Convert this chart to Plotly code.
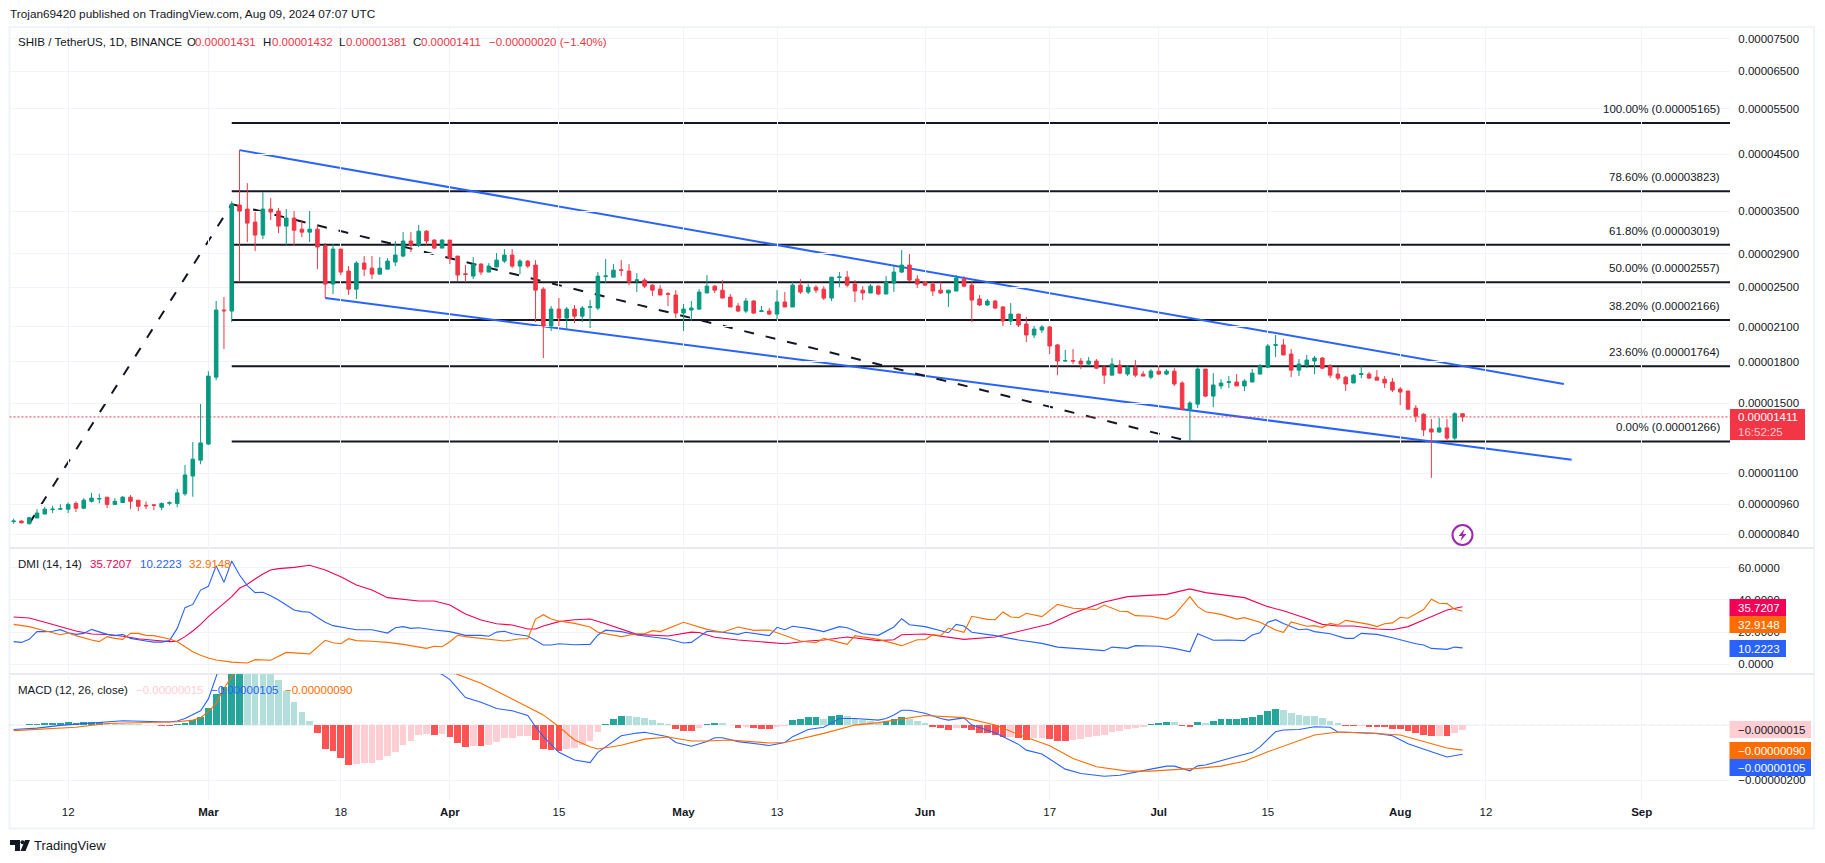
import math
import pandas as pd
import plotly.graph_objects as go

W, H = 1825, 863
UNIT = 1e-8          # prices and MACD values below are in units of 0.00000001
FONT = "Liberation Sans"
INK = "#131722"
GRID = "#f0f3fa"
UP, DOWN = "#089981", "#f23645"
BLUE, ORANGE, PINK = "#2962ff", "#ff6d00", "#f50057"

opens = [889,891,881,903,919,937,939,939,963,943,
 972,982,990,959,967,990,977,955,957,947,
 964,963,1005,1087,1166,1252,1682,2262,2252,3596,
 3533,3336,3150,3533,3502,3277,3395,3233,3191,3233,
 3001,2537,2961,2687,2481,2783,2722,2651,2710,2796,
 2871,3068,3014,3205,3081,2974,3081,2871,2655,2628,
 2771,2675,2735,2808,2884,2747,2808,2759,2481,2108,
 2272,2183,2272,2202,2290,2282,2622,2616,2702,2687,
 2578,2582,2525,2481,2431,2417,2232,2262,2272,2439,
 2514,2470,2395,2303,2252,2354,2248,2252,2222,2344,
 2293,2525,2449,2502,2481,2385,2612,2616,2537,2470,
 2439,2514,2428,2548,2675,2759,2593,2559,2537,2470,
 2439,2460,2593,2525,2375,2313,2354,2293,2155,2222,
 2127,2026,2071,2099,1939,1806,1810,1806,1782,1806,
 1758,1697,1774,1705,1758,1705,1682,1727,1705,1727,
 1639,1460,1493,1743,1547,1618,1642,1646,1618,1646,
 1705,1758,1935,1939,1863,1735,1774,1806,1830,1766,
 1705,1682,1639,1702,1705,1682,1667,1646,1596,1582,
 1467,1428,1338,1320,1344,1285,1431]
highs = [900,894,908,939,949,953,959,967,972,986,
 1009,1005,990,986,995,999,977,972,959,967,
 972,1027,1141,1263,1494,1727,2354,2395,3658,4584,
 3962,3487,3806,3708,3549,3533,3502,3365,3502,3292,
 3041,3028,2961,2747,2808,2871,2871,2858,2845,3068,
 3191,3191,3292,3219,3094,3094,3081,2871,2759,2858,
 2783,2783,2909,2961,2961,2833,2820,2820,2502,2303,
 2385,2293,2313,2303,2364,2675,2833,2771,2820,2771,
 2663,2605,2537,2525,2449,2470,2323,2354,2481,2640,
 2525,2582,2428,2333,2385,2364,2303,2282,2470,2449,
 2559,2593,2537,2525,2514,2616,2675,2687,2582,2514,
 2537,2525,2628,2747,2948,2897,2640,2570,2559,2559,
 2470,2640,2628,2559,2417,2375,2364,2303,2333,2222,
 2193,2108,2117,2108,1947,1896,1904,1830,1838,1822,
 1766,1830,1814,1774,1814,1727,1743,1766,1743,1750,
 1653,1513,1758,1743,1712,1667,1690,1705,1667,1743,
 1782,1947,2026,1990,1904,1822,1855,1847,1838,1782,
 1758,1690,1705,1766,1720,1735,1690,1675,1610,1582,
 1487,1435,1398,1405,1398,1441,1432]
lows = [880,882,877,903,919,923,935,923,927,939,
 967,963,943,959,967,939,931,939,935,935,
 955,947,996,992,1145,1246,1660,1904,2145,2563,
 3054,2935,3094,3365,3177,3014,3001,3122,3054,2710,
 2385,2428,2640,2417,2375,2628,2593,2640,2710,2747,
 2858,2922,2988,3014,2961,2974,2771,2570,2559,2593,
 2640,2675,2735,2783,2722,2651,2722,2145,1830,2062,
 2108,2080,2136,2145,2089,2262,2548,2616,2628,2525,
 2449,2492,2407,2417,2303,2183,2062,2155,2262,2439,
 2439,2385,2293,2242,2232,2222,2242,2212,2164,2293,
 2293,2428,2428,2439,2364,2354,2502,2502,2344,2364,
 2439,2417,2428,2449,2663,2570,2492,2514,2407,2428,
 2293,2460,2502,2145,2303,2303,2272,2108,2117,2099,
 1964,1999,2044,1863,1697,1798,1782,1743,1766,1743,
 1632,1697,1712,1690,1682,1690,1667,1697,1697,1618,
 1454,1268,1467,1540,1473,1596,1603,1618,1582,1646,
 1705,1750,1838,1855,1682,1690,1750,1705,1743,1675,
 1660,1582,1639,1675,1667,1660,1603,1575,1487,1460,
 1380,1297,1078,1315,1274,1268,1381]
closes = [891,884,904,923,939,939,941,959,943,977,
 986,984,959,972,990,972,951,953,955,963,
 966,1009,1092,1171,1258,1690,2262,2255,3611,3502,
 3321,3150,3533,3487,3277,3395,3219,3191,3233,2988,
 2537,2961,2675,2481,2783,2710,2651,2722,2808,2884,
 3068,3014,3205,3068,2974,3081,2845,2640,2647,2771,
 2675,2747,2820,2884,2747,2808,2747,2470,2108,2272,
 2183,2272,2202,2282,2295,2628,2630,2698,2695,2559,
 2584,2514,2470,2417,2425,2232,2272,2282,2449,2514,
 2470,2385,2293,2252,2354,2232,2254,2222,2344,2293,
 2525,2449,2502,2470,2385,2616,2618,2525,2460,2439,
 2514,2428,2559,2675,2759,2582,2537,2525,2460,2439,
 2470,2605,2514,2364,2313,2354,2282,2155,2222,2117,
 2026,2080,2099,1930,1806,1810,1806,1782,1806,1750,
 1697,1782,1712,1758,1697,1690,1727,1705,1727,1632,
 1460,1500,1743,1547,1625,1639,1648,1618,1653,1712,
 1766,1930,1941,1855,1735,1782,1814,1830,1750,1697,
 1675,1632,1697,1708,1675,1660,1639,1589,1575,1460,
 1416,1332,1320,1344,1285,1431,1411]

macd_hist = [1,1,5,5,8,8,8,12,8,11,
 12,12,8,7,6,6,5,3,2,-1,
 -1,4,8,18,30,64,114,138,230,250,
 225,215,205,195,165,126,85,48,16,-28,
 -86,-92,-118,-144,-141,-138,-136,-126,-112,-97,
 -72,-56,-35,-32,-35,-32,-42,-64,-79,-75,
 -75,-72,-61,-46,-46,-39,-39,-53,-86,-90,
 -93,-86,-82,-72,-57,-24,5,23,34,34,
 29,25,18,8,5,-13,-21,-21,-10,5,
 8,8,1,-10,-6,-10,-13,-13,-6,-3,
 19,23,30,30,23,34,38,34,23,18,
 16,8,16,23,30,23,16,8,-6,-10,
 -17,-10,-10,-17,-28,-28,-35,-42,-42,-46,
 -53,-46,-46,-50,-57,-57,-53,-50,-42,-39,
 -35,-24,-21,-13,-10,-6,5,8,12,12,
 -2,-6,12,8,16,23,23,23,27,30,
 38,52,59,56,45,38,34,34,27,16,
 8,-2,-2,-2,-6,-6,-6,-13,-13,-21,
 -28,-35,-39,-39,-39,-28,-15]
# G strong green, g pale green, R strong red, r pale red (one letter per bar)
macd_shade = ("g" "G" "GGGGGGGGGG" "ggggggg" "RR" "GGGGGGGGG" "ggggggggg" "RRRRR" "rrrrrrrrrr"
              "R" "r" "RRR" "r" "R" "rrrrrr" "RRRR" "rrrrr" "GGG" "gggggg" "RRR" "r" "GG" "gg"
              "R" "r" "RRR" "rr" "GGGG" "g" "GG" "ggggg" "GGG" "ggg" "RRR" "r" "RRRRRR" "r"
              "RR" "rr" "RRR" "rrrrrrrrrr" "GGG" "g" "RR" "G" "g" "GGGGGGGGG" "gggggggg"
              "RR" "r" "RRRRRRRRR" "r" "R" "rr")

adx_bars = [0,2,4,6,8,10,12,14,16,18,20,21,22,23,24,25,26,27,28,29,30,31,32,33,34,36,38,40,42,44,46,48,50,52,54,56,58,60,62,64,66,67,68,70,72,74,76,78,80,84,87,88,90,93,97,99,102,104,107,111,113,114,117,119,122,126,129,133,136,140,143,148,151,153,158,160,161,163,166,168,170,172,175,177,179,181,184,186]
adx_vals = [29.4,28.8,26.1,23.2,20.7,18.8,18.6,17.4,15.9,14.9,14.1,14.3,17.2,20.7,24.8,29.6,33.7,37.9,42,47.2,49.7,53,56.1,58.6,59.4,60.2,61.5,58.6,54.4,49.2,46.1,41.4,40.3,39.3,39.3,36.8,31.2,27.5,25.2,24.4,21.9,21.9,23.8,26.5,27.7,28.1,25.2,21.7,18.6,17.6,20,19.8,16.8,15.1,13.4,12.8,14.5,15.1,17,14.7,15.3,18.4,18.8,17.6,15.5,17,20.3,25,31.7,38.7,42,43.4,46.8,44.5,41.4,37.9,35.8,33.3,28.5,24.8,23.8,23.8,21.9,21.5,23.4,27.5,33.7,35.72]
plus_bars = [0,1,2,3,4,5,6,7,8,9,10,11,12,13,14,15,16,17,18,19,20,21,22,23,24,25,26,27,28,29,30,31,32,33,34,35,36,37,38,39,40,41,42,44,46,48,49,50,51,52,54,56,58,59,60,61,62,63,64,66,67,68,69,70,72,74,75,76,78,80,84,86,87,89,91,93,94,97,98,99,100,102,104,106,107,109,111,113,114,115,117,120,121,122,123,126,129,132,134,140,141,143,144,147,149,151,152,154,156,158,159,160,161,162,163,165,166,167,169,171,172,173,175,177,180,181,182,184,185,186]
plus_vals = [14.1,13.6,15.5,20.3,20.3,20.5,21.5,19.6,18.6,19.2,21.7,20.1,18.6,17.8,18.6,16.1,15.1,14.5,13.8,13.8,14.7,22.3,35.2,37.2,46.1,48.4,61.2,50.9,64.1,55.4,48.8,44.5,44.7,42.6,39.9,36.8,33.7,32.7,32.3,29.1,26.1,24,23.2,21.5,21.5,19.4,22.7,23.4,22.3,22.7,21.3,20.3,18,18,18,17.4,20,20.5,19,17.6,14.7,12,12,12.8,12.2,12.4,18.2,21.2,20.3,18.2,15.7,13.2,13.6,20.5,19.9,18.6,19.9,17.8,23,21.5,23.6,22.3,20.3,23.4,22.7,19,18,23.2,28.3,24.6,23.4,19.6,24.8,23.8,19.9,17.8,15.1,13,10.7,8.5,10.7,9.9,11.6,11.2,9.9,7.8,19,14.9,15.1,14.7,18.2,19.6,26.1,27.7,25.4,21.5,21.9,20.3,19,16.1,16.1,19.2,18.6,16.5,12.8,12,9.9,9.3,10.7,10.22]
minus_bars = [0,2,4,6,7,8,10,11,12,13,14,15,16,17,18,20,21,22,23,24,25,26,28,30,31,33,34,35,37,38,39,40,41,42,43,44,46,48,50,52,53,54,55,56,57,58,60,62,63,64,65,66,67,68,69,70,72,74,75,78,80,81,82,83,86,89,91,93,95,97,99,101,103,104,107,108,111,114,116,117,118,119,120,122,123,125,126,127,128,129,130,132,134,136,139,140,142,143,144,146,148,149,151,152,153,155,157,158,160,162,163,164,166,167,168,169,170,171,172,174,175,176,177,178,179,181,182,183,184,185,186]
minus_vals = [24.8,23.4,20.9,18.4,19.4,17.8,15.1,14.1,17.2,16.1,15.5,19.2,19.2,18,17.8,15.7,14,10.9,7.8,5.6,3.9,2.7,1.4,0.8,2.9,2.5,4.7,7.4,6.8,6.4,10.7,14.9,13.4,12.8,15.9,14.7,14.3,13.6,12.4,10.9,9.9,11.2,10.9,14,18,17.2,16.1,15.3,14.5,15.1,15.9,15.9,28.1,30.8,28.1,26.9,25.4,23.2,19.9,17.2,19,19,20.9,20.3,26.1,21.7,19.9,23.2,21.1,21.3,17.8,14.5,13.4,16.1,12.4,17.8,15.5,11.6,15.3,15.3,18.4,17.8,22.4,19.9,29.8,27.9,27.7,32.5,29.4,29,31.7,29.6,37.2,34.8,34,36.8,32.9,32.7,30.2,29.8,27.9,30.6,42,35.8,32.6,31,28.1,29,26.1,21.3,19.9,26.3,23.6,24,22.8,25.4,24.4,27.3,26.5,24.8,23.4,25.2,25.7,29.2,28.6,34,40.4,37.9,37.7,34.2,32.91]

macd_bars = [0,3,6,11,14,20,21,22,24,25,26,27,28,29,32,36,40,45,50,54,55,56,58,60,62,64,66,67,68,70,72,74,75,78,80,81,84,85,87,89,90,91,93,97,99,100,102,104,106,108,111,112,113,114,115,117,119,120,122,123,126,129,130,132,135,137,140,142,146,148,149,151,152,153,156,159,160,162,163,165,167,169,170,175,177,179,182,184,186]
macd_vals = [-15,-10,0,12,17,12,16,25,53,96,185,280,360,420,480,480,450,360,270,200,185,166,101,84,61,53,36,-5,-41,-98,-126,-135,-98,-38,-28,-25,-41,-62,-76,-59,-45,-45,-59,-73,-62,-41,-15,-7,25,25,19,25,38,55,55,44,25,19,27,1,-27,-69,-90,-104,-159,-175,-185,-181,-159,-148,-148,-165,-147,-144,-120,-98,-78,-23,-17,-15,-5,-7,-24,-29,-38,-67,-96,-115,-105]
signal_bars = [0,8,12,18,21,23,24,25,26,27,28,29,30,33,38,43,50,55,57,60,63,66,68,70,72,74,75,78,81,84,87,89,92,97,99,104,108,111,114,117,122,126,129,133,136,139,143,146,150,152,155,158,161,164,167,170,173,178,181,184,186]
signal_vals = [-19,-7,7,12,13,19,28,50,80,135,177,231,280,360,420,400,300,210,185,153,110,69,38,-5,-53,-78,-86,-72,-50,-42,-57,-57,-53,-64,-62,-29,1,10,24,36,28,1,-33,-74,-120,-150,-166,-166,-159,-156,-148,-130,-96,-65,-35,-24,-27,-35,-59,-82,-90]

price_ticks = [7500,6500,5500,4500,3500,2900,2500,2100,1800,1500,1100,960,840]
dmi_ticks = [60,40,20,0]
macd_ticks = [0,-200]
time_tick_dates = ["2024-02-12","2024-03-01","2024-03-18","2024-04-01","2024-04-15","2024-05-01","2024-05-13",
                   "2024-06-01","2024-06-17","2024-07-01","2024-07-15","2024-08-01","2024-08-12","2024-09-01"]
time_tick_text = ["12","<b>Mar</b>","18","<b>Apr</b>","15","<b>May</b>","13","<b>Jun</b>","17","<b>Jul</b>","15","<b>Aug</b>","12","<b>Sep</b>"]

fib_levels = [5165,3823,3019,2557,2166,1764,1266]
fib_pcts = ["100.00%","78.60%","61.80%","50.00%","38.20%","23.60%","0.00%"]
fib_start = "2024-03-04"
channel_upper_dates, channel_upper_prices = ["2024-03-05","2024-08-22"], [4584,1632]
channel_lower_dates, channel_lower_prices = ["2024-03-16","2024-08-23"], [2385,1168]
trend_dates, trend_prices = ["2024-02-07","2024-03-04","2024-07-05"], [881,3611,1266]
last_price = 1411

dates = pd.date_range("2024-02-05", periods=len(opens)).strftime("%Y-%m-%d").tolist()
assert len(macd_hist) == len(dates) and len(macd_shade.strip()) == len(dates), (len(macd_hist), len(macd_shade))
X_RANGE = ["2024-02-04 11:17", "2024-09-12 08:00"]
PLOT_L, PLOT_R = 9.5, 1730
FRAME_R = 1814


def px(x):
    return x / W


def py(y):
    return 1 - y / H


def at(bars):
    return [dates[b] for b in bars]


def scaled(vals):
    return [v * UNIT for v in vals]


fig = go.Figure()
fig.add_trace(go.Candlestick(
    x=dates, open=scaled(opens), high=scaled(highs), low=scaled(lows), close=scaled(closes),
    increasing=dict(line=dict(color=UP, width=1), fillcolor=UP),
    decreasing=dict(line=dict(color=DOWN, width=1), fillcolor=DOWN),
    whiskerwidth=0, xaxis="x", yaxis="y", hoverinfo="skip"))
for bars, vals, col in [(adx_bars, adx_vals, PINK), (plus_bars, plus_vals, BLUE), (minus_bars, minus_vals, ORANGE)]:
    assert len(bars) == len(vals), (len(bars), len(vals))
    fig.add_trace(go.Scatter(x=at(bars), y=vals, mode="lines", line=dict(color=col, width=1.1),
                             xaxis="x2", yaxis="y2", hoverinfo="skip"))
shade_col = {"G": "#26a69a", "g": "#b2dfdb", "R": "#ff5252", "r": "#ffcdd2"}
fig.add_trace(go.Bar(x=dates, y=scaled(macd_hist), marker=dict(color=[shade_col[c] for c in macd_shade], line_width=0),
                     width=0.86 * 86400000, xaxis="x3", yaxis="y3", hoverinfo="skip"))
for bars, vals, col in [(macd_bars, macd_vals, BLUE), (signal_bars, signal_vals, ORANGE)]:
    assert len(bars) == len(vals), (len(bars), len(vals))
    fig.add_trace(go.Scatter(x=at(bars), y=scaled(vals), mode="lines", line=dict(color=col, width=1.1),
                             xaxis="x3", yaxis="y3", hoverinfo="skip"))

shapes = []
ann = []


def seg(xs, ys, color, width, dash="solid", yref="y", xref="x"):
    for i in range(len(xs) - 1):
        shapes.append(dict(type="line", xref=xref, yref=yref, x0=xs[i], x1=xs[i + 1], y0=ys[i], y1=ys[i + 1],
                           line=dict(color=color, width=width, dash=dash), layer="below"))


for level, pct in zip(fib_levels, fib_pcts):
    v = level * UNIT
    seg([fib_start, X_RANGE[1]], [v, v], INK, 2)
    ann.append(dict(xref="paper", yref="y", x=px(1722), y=math.log10(v), yshift=6, text=f"{pct} ({v:.8f})",
                    showarrow=False, xanchor="right", yanchor="bottom", font=dict(family=FONT, size=11.5, color=INK)))
seg(channel_upper_dates, scaled(channel_upper_prices), BLUE, 2)
seg(channel_lower_dates, scaled(channel_lower_prices), BLUE, 2)
seg(trend_dates, scaled(trend_prices), INK, 2, dash="10px,12px")
seg(X_RANGE, [last_price * UNIT] * 2, DOWN, 1, dash="2px,2px")
seg(X_RANGE, [0, 0], "#9598a1", 1, dash="5px,3px", yref="y3", xref="x3")


def label(x, y, text, color=INK, size=11.5, anchor="left", family=FONT):
    ann.append(dict(xref="paper", yref="paper", x=px(x - 2), y=py(y), text=text, showarrow=False, xanchor=anchor,
                    yanchor="middle", xshift=0, align="left", font=dict(family=family, size=size, color=color)))


def rect(x0, y0, x1, y1, fill, line=None, width=0, layer="above"):
    shapes.append(dict(type="rect", xref="paper", yref="paper", x0=px(x0), x1=px(x1), y0=py(y0), y1=py(y1),
                       fillcolor=fill, line=dict(color=line or fill, width=width), layer=layer))


# frame and pane separators
shapes.append(dict(type="rect", xref="paper", yref="paper", x0=px(9.5), x1=px(FRAME_R), y0=py(27), y1=py(828.5),
                   line=dict(color=GRID, width=2), layer="below"))
for sep in (548, 674):
    shapes.append(dict(type="line", xref="paper", yref="paper", x0=px(9.5), x1=px(FRAME_R), y0=py(sep), y1=py(sep),
                       line=dict(color="#e0e3eb", width=1.5), layer="below"))

# last value pills
rect(1730, 409, 1805, 440, DOWN)
label(1738, 417.5, "0.00001411", "#ffffff")
label(1738, 431.5, "16:52:25", "#ffc9cf")
for y0, y1, fill, txt in [(599, 616, PINK, "35.7207"), (616, 633, ORANGE, "32.9148"), (640, 657, BLUE, "10.2223")]:
    rect(1729.5, y0, 1786, y1, fill)
    label(1738, (y0 + y1) / 2, txt, "#ffffff")
for y0, y1, fill, col, txt in [(721, 738, "#ffcdd2", INK, "−0.00000015"), (742, 759, ORANGE, "#ffffff", "−0.00000090"),
                               (759, 776, BLUE, "#ffffff", "−0.00000105")]:
    rect(1729.5, y0, 1811, y1, fill)
    label(1738, (y0 + y1) / 2, txt, col)

# header and legends
label(10, 14, "Trojan69420 published on TradingView.com, Aug 09, 2024 07:07 UTC", INK, 11.8)
label(18, 41.5, "SHIB / TetherUS, 1D, BINANCE", INK, 11.6)
for x, t, col in [(186.6, "O", INK), (194.5, "0.00001431", DOWN), (263, "H", INK), (271.5, "0.00001432", DOWN),
                  (339, "L", INK), (345.5, "0.00001381", DOWN), (413, "C", INK), (421, "0.00001411", DOWN),
                  (489, "−0.00000020 (−1.40%)", DOWN)]:
    label(x, 41.5, t, col)
label(18, 563.7, "DMI (14, 14)", INK)
label(90, 563.7, "35.7207", PINK)
label(140, 563.7, "10.2223", BLUE)
label(189, 563.7, "32.9148", ORANGE)
label(18, 689.5, "MACD (12, 26, close)", INK)
label(136, 689.5, "−0.00000015", "#ffcdd2")
label(211, 689.5, "−0.00000105", BLUE)
label(285, 689.5, "−0.00000090", ORANGE)

# TradingView mark
def poly(points, fill):
    d = "M" + " L".join(f"{px(a)},{py(b)}" for a, b in points) + " Z"
    shapes.append(dict(type="path", xref="paper", yref="paper", path=d, fillcolor=fill, line=dict(width=0), layer="above"))


poly([(10, 840), (20, 840), (20, 851), (15, 851), (15, 845), (10, 845)], INK)
poly([(20.5, 851), (25, 840), (30, 840), (25.5, 851)], INK)
shapes.append(dict(type="circle", xref="paper", yref="paper", x0=px(20.5), x1=px(24.5), y0=py(840.3), y1=py(844.3),
                   fillcolor=INK, line=dict(width=0), layer="above"))
label(33.5, 845.5, "TradingView", INK, 13)

# news flash mark
shapes.append(dict(type="circle", xref="paper", yref="paper", x0=px(1452.5), x1=px(1472.5), y0=py(525), y1=py(545),
                   fillcolor="#ffffff", line=dict(color="#9c27b0", width=2), layer="above"))
poly([(1464.5, 529), (1458.5, 536), (1462, 536), (1460.5, 541), (1466.5, 534), (1463, 534)], "#9c27b0")

tick_font = dict(family=FONT, size=11.5, color=INK)


def xaxis(domain_axis=None, labels=False):
    d = dict(domain=[px(PLOT_L), px(PLOT_R)], range=X_RANGE, type="date", tickmode="array", tickvals=time_tick_dates,
             ticktext=time_tick_text, showgrid=True, gridcolor=GRID, gridwidth=1, zeroline=False, showline=False,
             showticklabels=labels, tickfont=tick_font, ticks="outside" if labels else "",
             ticklen=1, tickcolor="rgba(0,0,0,0)", rangeslider=dict(visible=False))
    return d


fig.update_layout(
    width=W, height=H, margin=dict(l=0, r=0, t=0, b=0), paper_bgcolor="#ffffff", plot_bgcolor="#ffffff",
    showlegend=False, hovermode=False, boxgap=0.35, bargap=0, dragmode=False,
    shapes=shapes, annotations=ann,
    xaxis=xaxis(),
    xaxis2=dict(xaxis(), anchor="y2"),
    xaxis3=dict(xaxis(labels=True), anchor="y3"),
    yaxis=dict(domain=[py(548), py(28)], type="log", range=[math.log10(791 * UNIT), math.log10(7860 * UNIT)],
               side="right", anchor="x", tickmode="array", tickvals=scaled(price_ticks),
               ticktext=[f"{t * UNIT:.8f}" for t in price_ticks], showgrid=True, gridcolor=GRID, zeroline=False,
               tickfont=tick_font, ticks="outside", ticklen=5, tickcolor="rgba(0,0,0,0)"),
    yaxis2=dict(domain=[py(674), py(548)], range=[-6, 72.2], side="right", anchor="x2", tickmode="array",
                tickvals=dmi_ticks, ticktext=[f"{t:.4f}" for t in dmi_ticks], showgrid=True, gridcolor=GRID,
                zeroline=False, tickfont=tick_font, ticks="outside", ticklen=5, tickcolor="rgba(0,0,0,0)"),
    yaxis3=dict(domain=[py(800), py(674)], range=[-271 * UNIT, 186.5 * UNIT], side="right", anchor="x3",
                tickmode="array", tickvals=scaled(macd_ticks),
                ticktext=[f"{t * UNIT:.8f}".replace("-", "−") for t in macd_ticks], showgrid=True, gridcolor=GRID,
                zeroline=False, tickfont=tick_font, ticks="outside", ticklen=5, tickcolor="rgba(0,0,0,0)"),
)

fig.write_html("out.html", config=dict(displayModeBar=False, staticPlot=True),
               post_script="document.body.style.margin='0';document.body.style.overflow='hidden';")
